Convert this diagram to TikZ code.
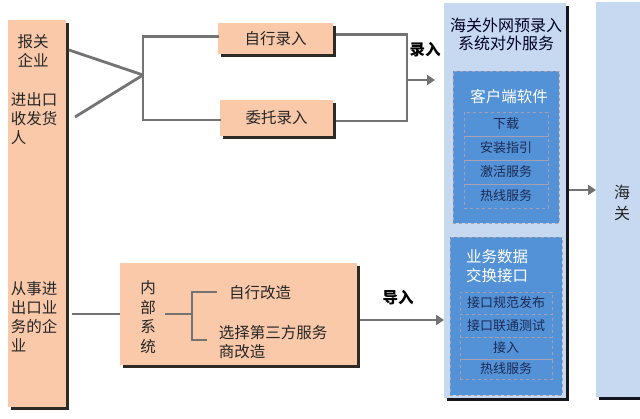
\documentclass[tikz,border=0pt]{standalone}
\usepackage{fontspec}
\setmainfont{Noto Sans CJK SC}
\usetikzlibrary{arrows.meta,calc}
\definecolor{peach}{HTML}{F9C9AA}
\definecolor{lblue}{HTML}{C6D9F0}
\definecolor{mblue}{HTML}{5392D6}
\definecolor{navy}{HTML}{1C2A55}
\definecolor{shadp}{HTML}{2E2A26}
\definecolor{shadb}{HTML}{15151E}
\definecolor{linec}{HTML}{737373}
\definecolor{dashc}{HTML}{A8A0B0}
\definecolor{txtc}{HTML}{262626}
\begin{document}
\begin{tikzpicture}[x=1pt,y=-1pt,
  every node/.style={inner sep=0pt,outer sep=0pt},
  pbox/.style={fill=peach},
  bbox/.style={fill=lblue},
  inpanel/.style={fill=mblue,draw=dashc,dashed,line width=0.8pt},
  item/.style={draw=dashc,dashed,line width=0.8pt,minimum width=#1,text=navy,font=\fontsize{13}{15}\selectfont},
  txt/.style={text=txtc,font=\fontsize{15.5}{19}\selectfont},
  wtxt/.style={text=white,font=\fontsize{15.5}{19}\selectfont},
  conn/.style={draw=linec,line width=2.8pt},
  arr/.style={draw=linec,line width=2.8pt,-{Triangle[length=8pt,width=10pt]}},
  lbl/.style={text=black,font=\fontsize{15.5}{19}\selectfont\bfseries},
  shadowp/.style={fill=shadp},
  shadowb/.style={fill=shadb}
]
\useasboundingbox (0,0) rectangle (640,419);
\fill[white] (0,0) rectangle (640,419);

% left column
\node[pbox,minimum width=58pt,minimum height=387pt] (L) at (37,213.5) {};
% top boxes
\node[pbox,txt,minimum width=115pt,minimum height=31pt] (A) at (275.5,38.5) {自行录入};
\node[pbox,txt,minimum width=113pt,minimum height=36pt] (B) at (276.5,118) {委托录入};
% blue panel
\node[bbox,minimum width=122pt,minimum height=395pt] (P) at (505,200.5) {};
% haiguan panel
\node[bbox,minimum width=48pt,minimum height=395pt] (H) at (620,199.5) {};
% bottom internal system box
\node[pbox,minimum width=237pt,minimum height=102pt] (D) at (238.5,314) {};

% shadow strips along the right and bottom edges
\path[shadowp] (L.north east) ++(0,3) rectangle ++(3,387);
\path[shadowp] (L.south west) ++(3,0) rectangle ++(58,3);
\path[shadowp] (A.north east) ++(0,3) rectangle ++(3,31);
\path[shadowp] (A.south west) ++(3,0) rectangle ++(115,3);
\path[shadowp] (B.north east) ++(0,3) rectangle ++(3,36);
\path[shadowp] (B.south west) ++(3,0) rectangle ++(113,3);
\path[shadowp] (D.north east) ++(0,3) rectangle ++(3,102);
\path[shadowp] (D.south west) ++(3,0) rectangle ++(237,3);
\path[shadowb] (P.north east) ++(0,3) rectangle ++(3,395);
\path[shadowb] (P.south west) ++(3,0) rectangle ++(122,3);
\path[shadowb] (H.south west) ++(3,0) rectangle ++(48,3);

\node[txt,align=center] (t1) at (33,51) {报关\\企业};
\node[txt,align=left] (t2) at (34,119) {进出口\\收发货\\人};
\node[txt,align=left] (t3) at (34,317) {从事进\\出口业\\务的企\\业};

\coordinate (a1) at (69,50);
\coordinate (a2) at (75,117);
\coordinate (br) at (143,75);
\draw[conn] (a1) -- (br);
\draw[conn] (a2) -- (br);
\draw[conn,line cap=rect] ([yshift=2pt]A.west) -| (br) |- ([yshift=-2pt]B.west);

\coordinate (m) at (407,80);
\coordinate (m2) at (435,80);
\draw[conn] ([shift={(3,-4)}]A.east) -| (m) |- ([shift={(3,3)}]B.east);
\draw[arr] (m) -- (m2);
\node[lbl] (lr) at (425,50) {录入};

\node[text=black!85!blue,font=\fontsize{16}{18}\selectfont,align=center] (pt) at (506,34) {海关外网预录入\\系统对外服务};

\node[inpanel,minimum width=106pt,minimum height=152pt] (C1) at (506,147) {};
\node[wtxt] (c1t) at (509,97) {客户端软件};
\node[item=84pt,minimum height=24pt] (i1) at (506,124) {下载};
\node[item=84pt,minimum height=24pt] (i2) at (506,148) {安装指引};
\node[item=84pt,minimum height=24pt] (i3) at (506,172) {激活服务};
\node[item=84pt,minimum height=24pt] (i4) at (506,196) {热线服务};

\node[inpanel,minimum width=112pt,minimum height=158pt] (C2) at (506,316) {};
\node[wtxt,align=left] (c2t) at (497,266.5) {业务数据\\交换接口};
\node[item=92pt,minimum height=22pt] (j1) at (506,303) {接口规范发布};
\node[item=92pt,minimum height=23pt] (j2) at (506,325.5) {接口联通测试};
\node[item=92pt,minimum height=22pt] (j3) at (506,348) {接入};
\node[item=92pt,minimum height=20pt] (j4) at (506,369) {热线服务};

\node[txt,align=center,font=\fontsize{16}{21}\selectfont] (ht) at (622,202.5) {海\\关};
\coordinate (h1) at (569,190);
\draw[arr] (h1) -- (h1 -| H.west) ;

\draw[conn] ([xshift=6pt]L.east |- D.west) -- (D.west);
\node[txt,align=center,font=\fontsize{15.5}{19.5}\selectfont] (dt) at (148,317) {内\\部\\系\\统};
\coordinate (b0) at (165,314);
\coordinate (bj) at (192,314);
\coordinate (bt) at (217,292);
\coordinate (bb) at (207,340);
\draw[conn] (b0) -- (bj);
\draw[conn] (bt) -| (bb -| bj) -- (bb);
\node[txt] (s1) at (260,293) {自行改造};
\node[txt,align=left] (s2) at (273,342) {选择第三方服务\\商改造};
\coordinate (d1) at (360,320);
\draw[arr] (d1) -- (d1 -| P.west);
\node[lbl] (ld) at (398,298) {导入};
\end{tikzpicture}
\end{document}
